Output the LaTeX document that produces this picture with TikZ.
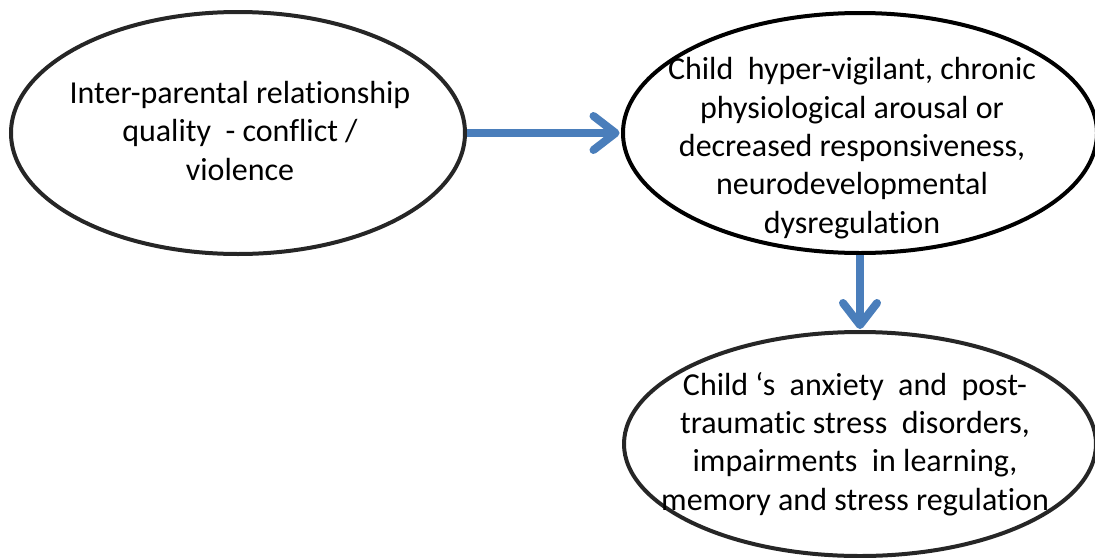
\documentclass[tikz,border=0pt]{standalone}
\usepackage{fontspec}
\setmainfont[Ligatures={NoCommon,NoRare,NoDiscretionary}]{Carlito}
\usetikzlibrary{shapes.geometric,arrows.meta}
\definecolor{arrblue}{RGB}{74,126,187}
\definecolor{ringgray}{RGB}{38,38,38}
\tikzset{
  ring/.style={ellipse, draw=ringgray, line width=4pt, inner sep=0pt},
  txt/.style={align=center, font=\fontsize{32}{38.3}\selectfont, inner sep=0pt, anchor=base},
  arr/.style={draw=arrblue, line width=8pt,
    -{Straight Barb[length=22pt, width=34pt, round]}}
}
\begin{document}
\begin{tikzpicture}[x=1pt,y=-1pt]
\useasboundingbox (0,0) rectangle (1095,557);
\node[ring, minimum width=454pt, minimum height=242pt] (e1) at (238,133) {};
\node[ring, draw=black, minimum width=474pt, minimum height=240pt] (e2) at (860,133) {};
\node[ring, minimum width=472pt, minimum height=224pt] (e3) at (860,444) {};
\node[txt] (t1) at (240,180) {Inter-parental relationship\\quality\ \ - conflict /\\violence};
\node[txt] (t2) at (852,233) {Child\ \ hyper-vigilant, chronic\\physiological arousal or\\decreased responsiveness,\\neurodevelopmental\\dysregulation};
\node[txt] (t3) at (855,510) {Child ‘s\ \ anxiety\ \ and\ \ post-\\traumatic stress\ \ disorders,\\impairments\ \ in learning,\\memory and stress regulation};
\draw[arr, shorten >=1.5pt] (e1.east) -- (e2.west);
\draw[arr, shorten >=1pt] (e2.south) -- (e3.north);
\end{tikzpicture}
\end{document}
